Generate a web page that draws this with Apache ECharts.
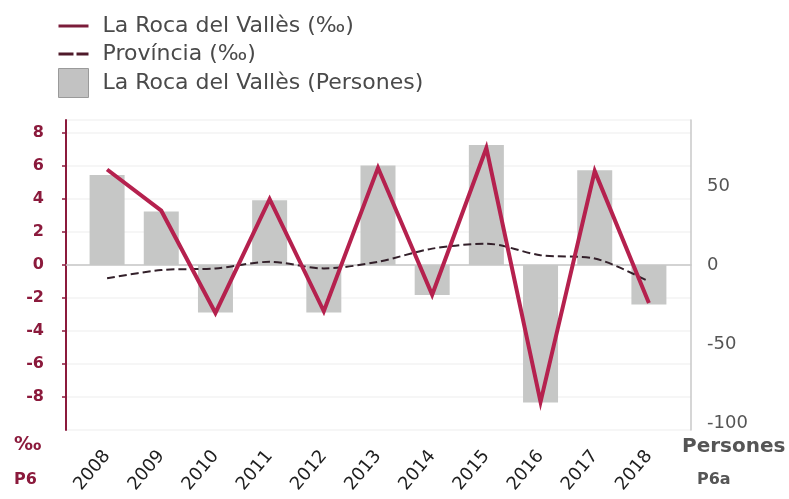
<!DOCTYPE html>
<html>
<head>
<meta charset="utf-8">
<title>La Roca del Vallès</title>
<script src="https://cdn.jsdelivr.net/npm/echarts@6/dist/echarts.min.js"></script>
<style>
  html, body { margin: 0; padding: 0; background: #ffffff; }
  #chart { width: 789px; height: 499px; }
</style>
</head>
<body>
<div id="chart"></div>
<script>
// Years on the category axis
const years = ['2008', '2009', '2010', '2011', '2012', '2013', '2014', '2015', '2016', '2017', '2018'];

// Rate per thousand inhabitants, La Roca del Vallès
const rocaPermil = [5.8, 3.3, -2.9, 4.0, -2.8, 5.9, -1.8, 7.1, -8.3, 5.7, -2.3];

// Rate per thousand inhabitants, province
const provinciaPermil = [-0.8, -0.3, -0.2, 0.2, -0.2, 0.2, 1.0, 1.3, 0.6, 0.4, -1.0];

// Net balance in persons, La Roca del Vallès
const rocaPersones = [57, 34, -30, 41, -30, 63, -19, 76, -87, 60, -25];

// Left axis (‰) range and step; right axis (persons) shares the same zero
const permilMin = -10;
const permilMax = 8.8;
const permilStep = 2;
const personsPerPermil = 10.44;
const personsMin = permilMin * personsPerPermil;
const personsMax = permilMax * personsPerPermil;
const personsStep = 50;

const wine = '#8b1a3c';
const lineRed = '#b5214e';
const provDark = '#33202a';
const barGrey = '#c6c7c6';

// Legend swatches: a solid bar and a pair of dashes
const solidSwatch = 'path://M0,0H30V3H0Z';
const dashSwatch = 'path://M0,0H15V3H0Z M18,0H30V3H18Z';

const chart = echarts.init(document.getElementById('chart'), null, { renderer: 'canvas' });

const option = {
  backgroundColor: '#ffffff',
  animation: false,
  legend: {
    orient: 'vertical',
    left: 53,
    top: 7,
    itemWidth: 30,
    itemHeight: 29,
    itemGap: 0,
    selectedMode: false,
    textStyle: {
      fontFamily: 'DejaVu Sans',
      fontSize: 22,
      lineHeight: 28,
      color: '#4a4a4a',
      padding: [0, 0, 0, 9]
    },
    data: [
      { name: 'La Roca del Vallès (‰)', icon: solidSwatch, itemStyle: { color: '#7b1c3a', borderWidth: 0 } },
      { name: 'Província (‰)', icon: dashSwatch, itemStyle: { color: '#4f1a2a', borderWidth: 0 } },
      { name: 'La Roca del Vallès (Persones)', icon: 'rect', itemStyle: { color: '#c2c2c2', borderColor: '#9a9a9a', borderWidth: 1 } }
    ]
  },
  grid: [
    { left: 66, right: 98, top: 120, bottom: 69 },
    { left: 80, right: 113, top: 120, bottom: 69 }
  ],
  xAxis: [
    {
      gridIndex: 0,
      type: 'value',
      min: 0,
      max: 1,
      axisLine: { show: true, onZero: true, lineStyle: { color: '#c8c8c8', width: 1.5 } },
      axisTick: { show: false },
      axisLabel: { show: false },
      splitLine: { show: false }
    },
    {
      gridIndex: 1,
      type: 'category',
      data: years,
      boundaryGap: true,
      axisLine: { show: false },
      axisTick: { show: false },
      axisLabel: {
        rotate: 50,
        margin: 23,
        fontFamily: 'DejaVu Sans',
        fontSize: 18,
        color: '#1e1e1e'
      }
    }
  ],
  yAxis: [
    {
      gridIndex: 0,
      type: 'value',
      position: 'left',
      min: permilMin,
      max: permilMax,
      interval: permilStep,
      axisLine: { show: true, lineStyle: { color: wine, width: 2 } },
      axisTick: { show: true, length: 4, lineStyle: { color: wine, width: 1.5 } },
      axisLabel: {
        showMinLabel: false,
        showMaxLabel: false,
        margin: 22,
        fontFamily: 'DejaVu Sans',
        fontWeight: 'bold',
        fontSize: 16,
        color: wine
      },
      splitLine: { show: true, lineStyle: { color: '#f3f3f3', width: 1.5 } }
    },
    {
      gridIndex: 0,
      type: 'value',
      position: 'right',
      min: personsMin,
      max: personsMax,
      splitNumber: 4,
      axisLine: { show: true, lineStyle: { color: '#c8c8c8', width: 1.5 } },
      axisTick: { show: false },
      axisLabel: {
        margin: 16,
        fontFamily: 'DejaVu Sans',
        fontSize: 18,
        color: '#555555',
        formatter: function (v) {
          return Math.abs(v % personsStep) < 1e-6 ? String(Math.round(v)) : '';
        }
      },
      splitLine: { show: false }
    },
    {
      gridIndex: 1,
      type: 'value',
      min: permilMin,
      max: permilMax,
      show: false
    },
    {
      gridIndex: 1,
      type: 'value',
      min: personsMin,
      max: personsMax,
      show: false
    }
  ],
  graphic: [
    { type: 'text', left: 14, top: 436, style: { text: '‰', font: 'bold 19px "DejaVu Sans"', fill: wine } },
    { type: 'text', left: 14, top: 472, style: { text: 'P6', font: 'bold 16px "DejaVu Sans"', fill: wine } },
    { type: 'text', left: 682, top: 437, style: { text: 'Persones', font: 'bold 20px "DejaVu Sans"', fill: '#555555' } },
    { type: 'text', left: 697, top: 472, style: { text: 'P6a', font: 'bold 16px "DejaVu Sans"', fill: '#555555' } }
  ],
  series: [
    {
      name: 'La Roca del Vallès (Persones)',
      type: 'bar',
      xAxisIndex: 1,
      yAxisIndex: 3,
      data: rocaPersones,
      barWidth: 35,
      itemStyle: { color: barGrey },
      z: 1
    },
    {
      name: 'Província (‰)',
      type: 'line',
      xAxisIndex: 1,
      yAxisIndex: 2,
      data: provinciaPermil,
      symbol: 'none',
      smooth: 0.3,
      lineStyle: { color: provDark, width: 2, type: [8, 4] },
      itemStyle: { color: provDark },
      z: 3
    },
    {
      name: 'La Roca del Vallès (‰)',
      type: 'line',
      xAxisIndex: 1,
      yAxisIndex: 2,
      data: rocaPermil,
      symbol: 'none',
      lineStyle: { color: lineRed, width: 4, join: 'miter' },
      itemStyle: { color: lineRed },
      z: 4
    }
  ]
};

chart.setOption(option);
</script>
</body>
</html>
